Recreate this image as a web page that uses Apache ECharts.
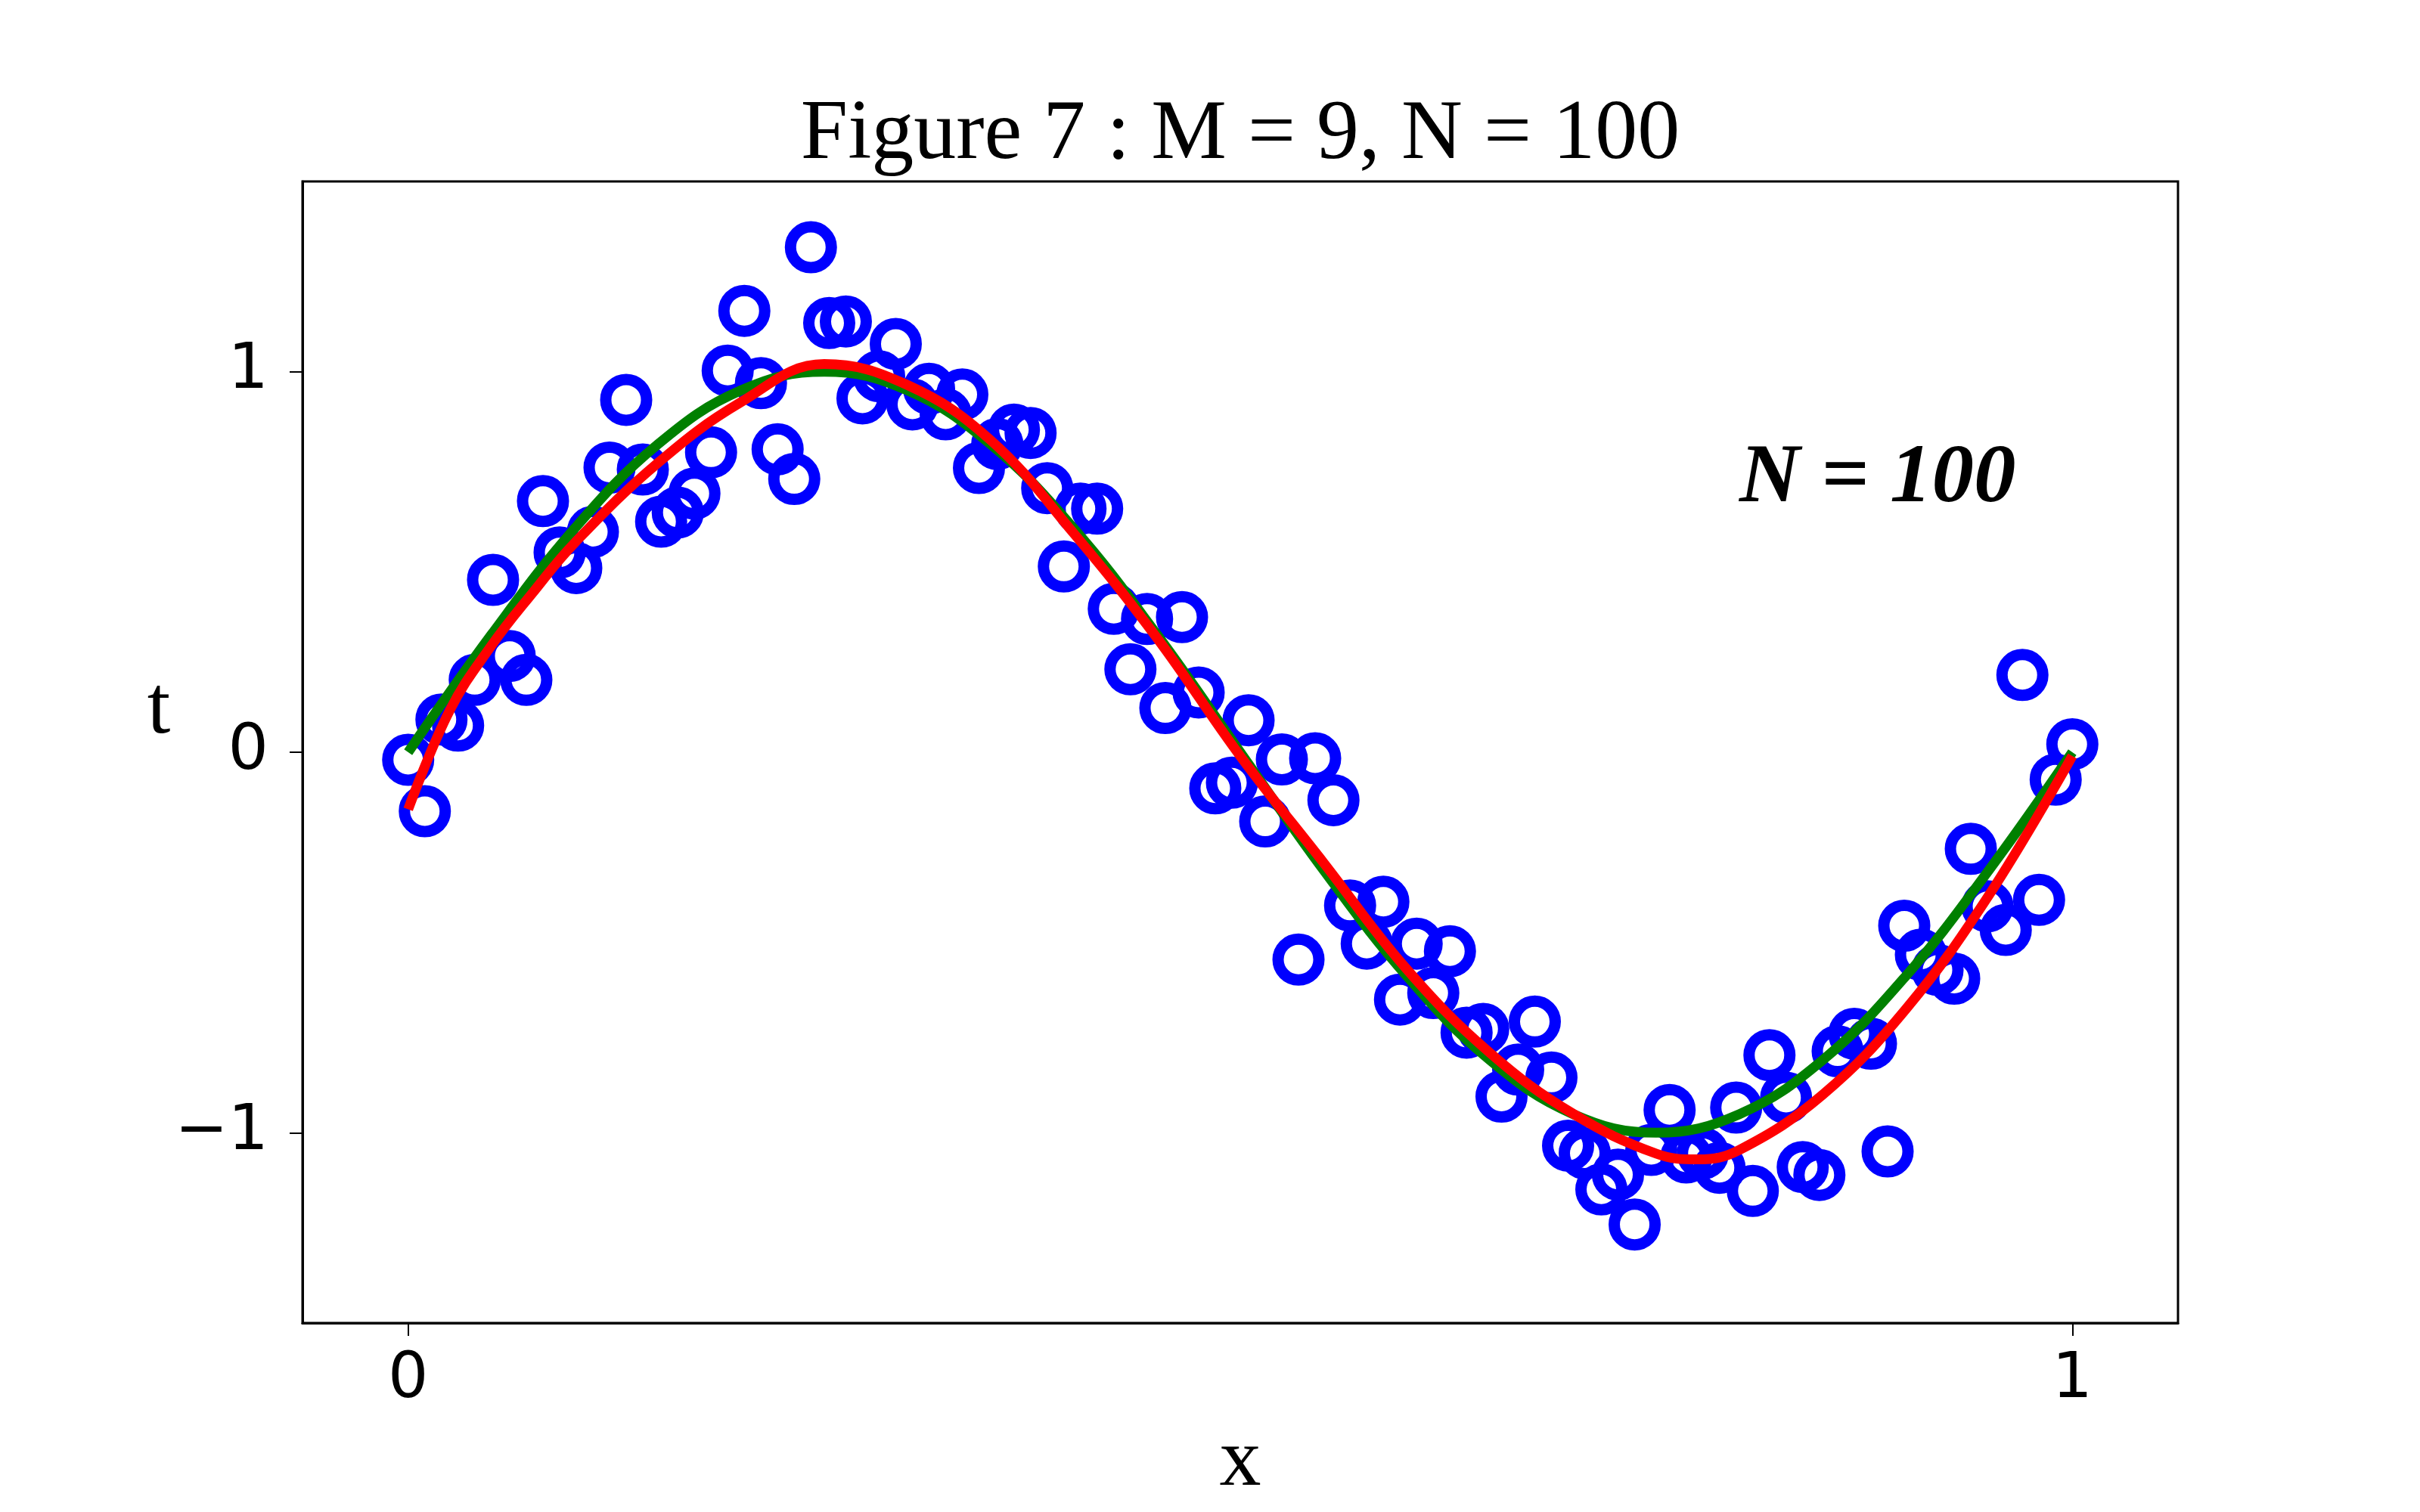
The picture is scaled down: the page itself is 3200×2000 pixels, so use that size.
<!DOCTYPE html>
<html>
<head>
<meta charset="utf-8">
<script src="https://cdn.jsdelivr.net/npm/echarts@6/dist/echarts.min.js"></script>
<style>
html,body{margin:0;padding:0;background:#fff;}
#chart{width:3200px;height:2000px;}
</style>
</head>
<body>
<div id="chart"></div>
<script>
// ---- data ----
const pointX = [
  0.000, 0.010, 0.020, 0.030, 0.040, 0.051, 0.061, 0.071, 0.081, 0.091,
  0.101, 0.111, 0.121, 0.131, 0.141, 0.152, 0.162, 0.172, 0.182, 0.192,
  0.202, 0.212, 0.222, 0.232, 0.242, 0.253, 0.263, 0.273, 0.283, 0.293,
  0.303, 0.313, 0.323, 0.333, 0.343, 0.354, 0.364, 0.374, 0.384, 0.394,
  0.404, 0.414, 0.424, 0.434, 0.444, 0.455, 0.465, 0.475, 0.485, 0.495,
  0.505, 0.515, 0.525, 0.535, 0.545, 0.556, 0.566, 0.576, 0.586, 0.596,
  0.606, 0.616, 0.626, 0.636, 0.646, 0.657, 0.667, 0.677, 0.687, 0.697,
  0.707, 0.717, 0.727, 0.737, 0.747, 0.758, 0.768, 0.778, 0.788, 0.798,
  0.808, 0.818, 0.828, 0.838, 0.848, 0.859, 0.869, 0.879, 0.889, 0.899,
  0.909, 0.919, 0.929, 0.939, 0.949, 0.960, 0.970, 0.980, 0.990, 1.000
];
const pointT = [
  -0.02, -0.155, 0.086, 0.07, 0.19, 0.453, 0.253, 0.19, 0.66, 0.525,
  0.484, 0.579, 0.748, 0.926, 0.743, 0.606, 0.63, 0.68, 0.788, 1.003,
  1.16, 0.97, 0.796, 0.718, 1.327, 1.128, 1.132, 0.93, 0.988, 1.073,
  0.914, 0.955, 0.888, 0.94, 0.747, 0.81, 0.848, 0.839, 0.694, 0.488,
  0.64, 0.64, 0.377, 0.218, 0.35, 0.116, 0.355, 0.157, -0.095, -0.08,
  0.084, -0.182, -0.019, -0.545, -0.016, -0.126, -0.403, -0.503, -0.393, -0.65,
  -0.503, -0.633, -0.523, -0.737, -0.727, -0.905, -0.834, -0.708, -0.855, -1.034,
  -1.054, -1.149, -1.11, -1.241, -1.045, -0.94, -1.065, -1.054, -1.092, -0.934,
  -1.153, -0.796, -0.908, -1.09, -1.111, -0.786, -0.74, -0.766, -1.049, -0.456,
  -0.532, -0.572, -0.595, -0.254, -0.405, -0.467, 0.203, -0.388, -0.072, 0.021
];
// true curve (green)
const trueX = [0, 0.05, 0.1, 0.15, 0.2, 0.25, 0.3, 0.35, 0.4, 0.45, 0.5,
               0.55, 0.6, 0.65, 0.7, 0.75, 0.8, 0.85, 0.9, 0.95, 1];
const trueT = [0, 0.309, 0.588, 0.809, 0.951, 1.0, 0.951, 0.809, 0.588, 0.309, 0,
               -0.309, -0.588, -0.809, -0.951, -1.0, -0.951, -0.809, -0.588, -0.309, 0];
// fitted curve M = 9 (red)
const fitX = [0, 0.025, 0.05, 0.075, 0.1, 0.15, 0.2, 0.25, 0.3, 0.35, 0.4, 0.45, 0.5,
              0.55, 0.6, 0.65, 0.7, 0.75, 0.775, 0.8, 0.85, 0.9, 0.95, 1];
const fitT = [-0.15, 0.11, 0.28, 0.42, 0.55, 0.76, 0.92, 1.02, 0.965, 0.82, 0.575, 0.30, -0.01,
              -0.29, -0.57, -0.79, -0.95, -1.055, -1.07, -1.045, -0.90, -0.675, -0.375, -0.01];
const xTicks = [0, 1];
const xTickLabels = ['0', '1'];
const yTicks = [-1, 0, 1];
const yTickLabels = ['\u22121', '0', '1'];
const titleText = 'Figure 7 : M = 9, N = 100';
const annotText = 'N = 100';
const xName = 'x';
const yName = 't';

// ---- chart ----
const zip = (a, b) => a.map((v, i) => [v, b[i]]);
const chart = echarts.init(document.getElementById('chart'), null, {renderer: 'canvas'});
const serif = '"Liberation Serif", "DejaVu Serif", serif';
const sans = '"DejaVu Sans", sans-serif';

const option = {
  animation: false,
  backgroundColor: '#ffffff',
  grid: {
    left: 400, right: 320, top: 240, bottom: 250,
    show: true, borderColor: '#000', borderWidth: 3, backgroundColor: 'transparent'
  },
  xAxis: {
    type: 'value', min: -0.0635, max: 1.0635,
    name: xName, nameLocation: 'middle', nameGap: 130,
    nameTextStyle: {fontFamily: serif, fontSize: 110, color: '#000'},
    axisLine: {show: true, onZero: false, lineStyle: {color: '#000', width: 3}},
    axisTick: {show: true, length: 17, lineStyle: {color: '#000', width: 2}, customValues: xTicks},
    axisLabel: {
      show: true, margin: 34, fontFamily: sans, fontSize: 84, color: '#000',
      customValues: xTicks,
      formatter: v => xTickLabels[xTicks.indexOf(Math.round(v * 1000) / 1000)] ?? ''
    },
    splitLine: {show: false}
  },
  yAxis: {
    type: 'value', min: -1.5, max: 1.5,
    name: yName, nameLocation: 'middle', nameGap: 166, nameRotate: 0,
    nameTextStyle: {fontFamily: serif, fontSize: 110, color: '#000', verticalAlign: 'bottom'},
    axisLine: {show: true, onZero: false, lineStyle: {color: '#000', width: 3}},
    axisTick: {show: true, length: 17, lineStyle: {color: '#000', width: 2}, customValues: yTicks},
    axisLabel: {
      show: true, margin: 45, fontFamily: sans, fontSize: 84, color: '#000',
      customValues: yTicks,
      formatter: v => yTickLabels[yTicks.indexOf(Math.round(v * 1000) / 1000)] ?? ''
    },
    splitLine: {show: false}
  },
  graphic: [
    {
      type: 'text', x: 1640, y: 180,
      style: {
        text: titleText, fontFamily: serif, fontSize: 112, fill: '#000',
        textAlign: 'center', textVerticalAlign: 'middle'
      }
    },
    {
      type: 'text', x: 2300, y: 634,
      style: {
        text: annotText, fontFamily: serif, fontSize: 111, fontWeight: 'bold',
        fontStyle: 'italic', fill: '#000', textAlign: 'left', textVerticalAlign: 'middle'
      }
    }
  ],
  series: [
    {
      type: 'scatter',
      data: zip(pointX, pointT),
      symbol: 'circle', symbolSize: 54,
      itemStyle: {color: 'rgba(0,0,0,0)', borderColor: '#0000ff', borderWidth: 15, opacity: 1},
      z: 2
    },
    {
      type: 'line',
      data: zip(trueX, trueT),
      showSymbol: false, smooth: 0.4,
      lineStyle: {color: '#008000', width: 13},
      z: 3
    },
    {
      type: 'line',
      data: zip(fitX, fitT),
      showSymbol: false, smooth: 0.4,
      lineStyle: {color: '#ff0000', width: 13},
      z: 4
    }
  ]
};
chart.setOption(option);
</script>
</body>
</html>
